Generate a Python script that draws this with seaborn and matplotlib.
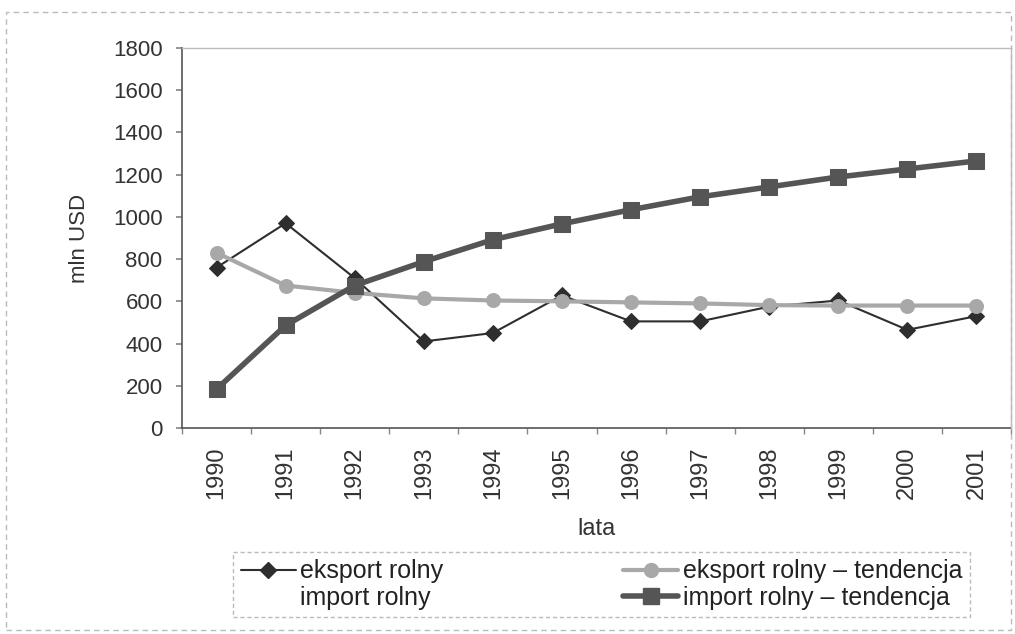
import numpy as np
import pandas as pd
import seaborn as sns
import matplotlib.pyplot as plt
from matplotlib.lines import Line2D
from matplotlib.patches import Rectangle

years = list(range(1990, 2002))
eksport = [760, 970, 710, 410, 450, 628, 505, 505, 575, 604, 465, 530]
eksport_tend = [830, 675, 640, 614, 604, 600, 595, 590, 582, 580, 580, 580]
import_tend = [184, 486, 675, 788, 892, 967, 1034, 1095, 1142, 1189, 1227, 1265]

labels = ["eksport rolny", "import rolny",
          "eksport rolny – tendencja", "import rolny – tendencja"]

sns.set_theme(style="white")
plt.rcParams['font.family'] = ['Liberation Sans', 'DejaVu Sans']

fig = plt.figure(figsize=(10.15, 6.34), dpi=100)
ax = fig.add_axes([182 / 1015, 1 - 428 / 634, (1011 - 182) / 1015, (428 - 48) / 634])

df = pd.DataFrame({"lata": years, "eksport": eksport,
                   "eksport_tend": eksport_tend, "import_tend": import_tend})

sns.lineplot(data=df, x="lata", y="eksport", ax=ax, color="#2e2e2e", lw=1.5,
             marker="D", markersize=8, markeredgecolor="#2e2e2e")
sns.lineplot(data=df, x="lata", y="eksport_tend", ax=ax, color="#a8a8a8", lw=3,
             marker="o", markersize=10, markeredgecolor="#a8a8a8")
sns.lineplot(data=df, x="lata", y="import_tend", ax=ax, color="#555555", lw=4,
             marker="s", markersize=11, markeredgecolor="#555555")

ax.set_xlim(1989.5, 2001.5)
ax.set_ylim(0, 1800)
ax.set_yticks(range(0, 1801, 200))
ax.set_xticks(years)
ax.set_xticklabels([str(y) for y in years], rotation=90)
ax.set_xticks(np.arange(1989.5, 2002, 1), minor=True)
ax.tick_params(axis="x", which="major", length=0, labelsize=17, pad=13, colors="#333333")
ax.tick_params(axis="x", which="minor", length=4, bottom=True, color="#888888")
ax.tick_params(axis="y", length=4, left=True, labelsize=16, pad=10, colors="#333333")
ax.tick_params(axis="y", color="#888888")

ax.set_ylabel("mln USD", fontsize=16, color="#333333")
ax.set_xlabel("lata", fontsize=17, color="#333333")
ax.yaxis.set_label_coords(-0.111, 0.5)
ax.xaxis.set_label_coords(0.5, -0.237)

for side in ["left", "bottom"]:
    ax.spines[side].set_color("#555555")
    ax.spines[side].set_linewidth(1.2)
for side in ["top", "right"]:
    ax.spines[side].set_color("#bbbbbb")
    ax.spines[side].set_linewidth(1)

handles = [
    Line2D([], [], color="#2e2e2e", lw=1.5, marker="D", markersize=8),
    Line2D([], [], color="white", lw=1.5),
    Line2D([], [], color="#a8a8a8", lw=3, marker="o", markersize=10),
    Line2D([], [], color="#555555", lw=4, marker="s", markersize=11),
]
leg = fig.legend(handles, labels, loc="center",
                 bbox_to_anchor=(233 / 1015, 1 - 621 / 634, 737 / 1015, 73 / 634),
                 mode="expand", ncol=2, fontsize=18, frameon=True, fancybox=False,
                 labelspacing=0.1, handlelength=2.2, handletextpad=0.2,
                 borderpad=0.3, columnspacing=1.0, borderaxespad=0)
leg.get_frame().set_edgecolor("#aaaaaa")
leg.get_frame().set_linewidth(1)
leg.get_frame().set_linestyle((0, (3, 2)))
for t in leg.get_texts():
    t.set_color("#222222")

fig.patches.append(Rectangle((6 / 1015, 4 / 634), 1005 / 1015, 618 / 634,
                             transform=fig.transFigure, fill=False,
                             edgecolor="#bbbbbb", lw=1, ls=(0, (4, 3))))

fig.savefig("out.png", dpi=100)
plt.close(fig)
